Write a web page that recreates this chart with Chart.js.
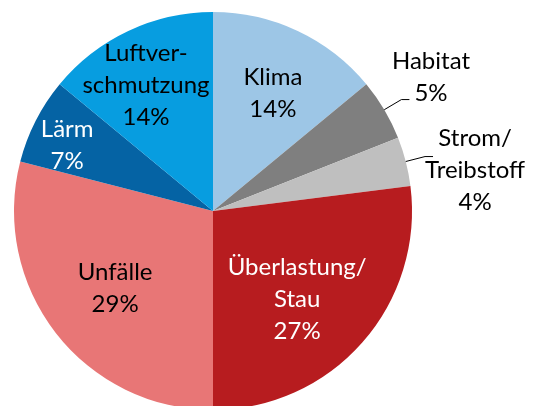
<!DOCTYPE html>
<html>
<head>
<meta charset="utf-8">
<script src="https://cdn.jsdelivr.net/npm/chart.js@4/dist/chart.umd.min.js"></script>
<style>
    html, body { margin: 0; padding: 0; background: #fff; overflow: hidden; }
    #wrap { width: 535px; height: 420px; }
</style>
</head>
<body>
<div id="wrap"><canvas id="verkehrPie" width="535" height="420"></canvas></div>
<script>
// categories, clockwise from 12 o'clock
const categories = [
    ["Klima"],
    ["Habitat"],
    ["Strom/", "Treibstoff"],
    ["Überlastung/", "Stau"],
    ["Unfälle"],
    ["Lärm"],
    ["Luftver-", "schmutzung"],
];
// share of costs in %
const shares = [14, 5, 4, 27, 29, 7, 14];

const sliceColors = [
    "#9dc6e6", // light blue
    "#7f7f7f", // grey
    "#bfbfbf", // light grey
    "#b71c1f", // dark red
    "#e87676", // salmon
    "#0563a4", // dark blue
    "#079de0", // blue
];
const labelColors = ["#000", "#000", "#000", "#fff", "#000", "#fff", "#000"];

// where the label sits: distance as a part of the radius, small turn in degrees,
// and whether it is an outside label with a leader line
const labelPlace = [
    { dist: 0.665, turn: 1.7 },
    { dist: 1.286, turn: -1.0, leader: true },
    { dist: 1.333, turn: 5.5, leader: true },
    { dist: 0.612, turn: 4.9 },
    { dist: 0.626, turn: -0.4 },
    { dist: 0.804, turn: -2.7 },
    { dist: 0.717, turn: -2.8 },
];

const FONT = '24px Lato, "Open Sans", sans-serif';
const LINE_H = 32;

// draws the category + percent text of every slice
const sliceLabels = {
    id: "sliceLabels",
    afterDatasetsDraw(chart) {
        const ctx = chart.ctx;
        const arcs = chart.getDatasetMeta(0).data;
        ctx.save();
        ctx.font = FONT;
        ctx.textAlign = "center";
        ctx.textBaseline = "middle";
        arcs.forEach((arc, i) => {
            const p = arc.getProps(["x", "y", "startAngle", "endAngle", "outerRadius"], true);
            const mid = (p.startAngle + p.endAngle) / 2;
            const place = labelPlace[i];
            const ang = mid + (place.turn * Math.PI) / 180;
            const cx = p.x + Math.cos(ang) * p.outerRadius * place.dist;
            const cy = p.y + Math.sin(ang) * p.outerRadius * place.dist;

            if (place.leader) {
                const sx = p.x + Math.cos(mid) * p.outerRadius;
                const sy = p.y + Math.sin(mid) * p.outerRadius;
                const ex = p.x + Math.cos(mid) * p.outerRadius * 1.1;
                const ey = p.y + Math.sin(mid) * p.outerRadius * 1.1;
                ctx.strokeStyle = "#000";
                ctx.lineWidth = 1;
                ctx.beginPath();
                ctx.moveTo(sx, sy);
                ctx.lineTo(ex, ey);
                ctx.lineTo(ex + 8, ey);
                ctx.stroke();
            }

            const lines = categories[i].concat([shares[i] + "%"]);
            const top = cy - ((lines.length - 1) * LINE_H) / 2;
            ctx.fillStyle = labelColors[i];
            lines.forEach((t, k) => ctx.fillText(t, cx, top + k * LINE_H));
        });
        ctx.restore();
    },
};

const ctx = document.getElementById("verkehrPie").getContext("2d");

new Chart(ctx, {
    type: "pie",
    data: {
        labels: categories.map((c) => c.join(" ")),
        datasets: [
            {
                data: shares,
                backgroundColor: sliceColors,
                borderWidth: 0,
            },
        ],
    },
    options: {
        responsive: false,
        animation: false,
        layout: {
            padding: { left: 14, right: 123, top: 12, bottom: 10 },
        },
        plugins: {
            legend: { display: false },
            tooltip: { enabled: false },
        },
    },
    plugins: [sliceLabels],
});
</script>
</body>
</html>
